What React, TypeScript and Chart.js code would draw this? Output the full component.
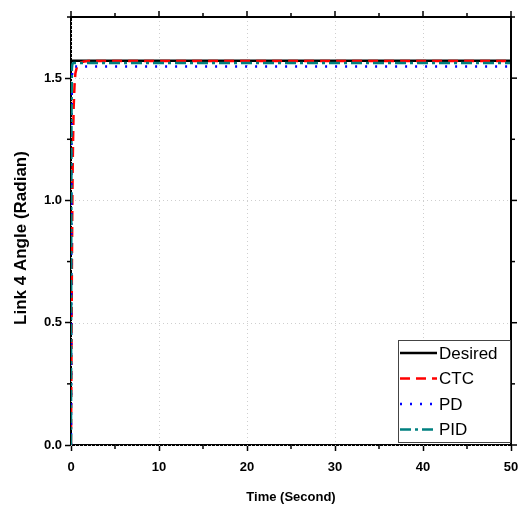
import React, { useEffect, useRef } from "react";
import { Chart, registerables } from "chart.js";

Chart.register(...registerables);

const timeSec = [0, 0.05, 0.1, 0.15, 0.2, 0.3, 0.4, 0.5, 0.7, 1, 1.5, 2, 3, 5, 10, 20, 30, 40, 50];
const desired = [1.5708, 1.5708, 1.5708, 1.5708, 1.5708, 1.5708, 1.5708, 1.5708, 1.5708, 1.5708, 1.5708, 1.5708, 1.5708, 1.5708, 1.5708, 1.5708, 1.5708, 1.5708, 1.5708];
const ctc = [0, 0.35, 0.72, 0.98, 1.17, 1.38, 1.47, 1.52, 1.55, 1.563, 1.568, 1.57, 1.57, 1.57, 1.57, 1.57, 1.57, 1.57, 1.57];
const pd = [0, 1.22, 1.5, 1.53, 1.54, 1.546, 1.548, 1.548, 1.548, 1.548, 1.548, 1.548, 1.548, 1.548, 1.548, 1.548, 1.548, 1.548, 1.548];
const pid = [0, 1.3, 1.54, 1.555, 1.56, 1.562, 1.562, 1.562, 1.562, 1.562, 1.562, 1.562, 1.562, 1.562, 1.562, 1.562, 1.562, 1.562, 1.562];

const xTicks = [0, 10, 20, 30, 40, 50];
const xMinorTicks = [5, 15, 25, 35, 45];
const yTicks = [0, 0.5, 1.0, 1.5];
const yMinorTicks = [0.25, 0.75, 1.25, 1.75];

const seriesNames = ["Desired", "CTC", "PD", "PID"];
const seriesColors = ["#000000", "#ff0000", "#0000ff", "#008080"];
const seriesDash = [[], [10, 6], [2, 8], [11, 4, 3, 4]];

const SANS = "'Liberation Sans', Arial, sans-serif";
const yTitle = "Link 4 Angle (Radian)";

const framePlugin = {
  id: "frame",
  beforeDatasetsDraw(chart: any) {
    const { ctx, chartArea: a, scales } = chart;
    ctx.save();
    ctx.strokeStyle = "#cfcfcf";
    ctx.lineWidth = 1;
    ctx.setLineDash([1, 3]);
    for (const v of xTicks) {
      const x = Math.round(scales.x.getPixelForValue(v)) + 0.5;
      ctx.beginPath();
      ctx.moveTo(x, a.top);
      ctx.lineTo(x, a.bottom);
      ctx.stroke();
    }
    for (const v of yTicks) {
      const y = Math.round(scales.y.getPixelForValue(v)) + 0.5;
      ctx.beginPath();
      ctx.moveTo(a.left, y);
      ctx.lineTo(a.right, y);
      ctx.stroke();
    }
    ctx.restore();
  },
  afterDraw(chart: any) {
    const { ctx, chartArea: a, scales } = chart;
    ctx.save();
    ctx.strokeStyle = "#000";
    ctx.setLineDash([]);
    ctx.lineWidth = 2;
    ctx.beginPath();
    ctx.moveTo(a.left, a.top);
    ctx.lineTo(a.right, a.top);
    ctx.lineTo(a.right, a.bottom);
    ctx.stroke();
    ctx.lineWidth = 1.5;
    const tick = (x1: number, y1: number, x2: number, y2: number) => {
      ctx.beginPath();
      ctx.moveTo(x1, y1);
      ctx.lineTo(x2, y2);
      ctx.stroke();
    };
    for (const v of xTicks) {
      const x = scales.x.getPixelForValue(v);
      tick(x, a.top, x, a.top - 6);
    }
    for (const v of xMinorTicks) {
      const x = scales.x.getPixelForValue(v);
      tick(x, a.top, x, a.top - 4);
      tick(x, a.bottom, x, a.bottom + 4);
    }
    for (const v of yTicks) {
      const y = scales.y.getPixelForValue(v);
      tick(a.right, y, a.right + 6, y);
    }
    for (const v of yMinorTicks) {
      const y = scales.y.getPixelForValue(v);
      tick(a.left, y, a.left - 4, y);
      tick(a.right, y, a.right + 4, y);
    }
    // y axis title
    ctx.save();
    ctx.translate(21, 238);
    ctx.rotate(-Math.PI / 2);
    ctx.font = "bold 17px " + SANS;
    ctx.fillStyle = "#000";
    ctx.textAlign = "center";
    ctx.textBaseline = "middle";
    ctx.fillText(yTitle, 0, 0);
    ctx.restore();
    // legend
    const lx = 398, ly = 340, lw = 112, lh = 102;
    ctx.fillStyle = "#fff";
    ctx.fillRect(lx, ly, lw, lh);
    ctx.lineWidth = 1;
    ctx.strokeStyle = "#444";
    ctx.strokeRect(lx + 0.5, ly + 0.5, lw, lh);
    ctx.font = "17px " + SANS;
    ctx.textBaseline = "middle";
    ctx.textAlign = "left";
    seriesNames.forEach((name, i) => {
      const y = ly + 13 + i * 25.5;
      ctx.strokeStyle = seriesColors[i];
      ctx.lineWidth = 2.5;
      ctx.setLineDash(seriesDash[i]);
      ctx.beginPath();
      ctx.moveTo(lx + 2, y);
      ctx.lineTo(lx + 39, y);
      ctx.stroke();
      ctx.setLineDash([]);
      ctx.fillStyle = "#000";
      ctx.fillText(name, lx + 41, y + 1);
    });
    ctx.restore();
  },
};

export default function App() {
  const ref = useRef<HTMLCanvasElement | null>(null);
  useEffect(() => {
    if (!ref.current) return;
    const allSeries = [desired, ctc, pd, pid];
    const chart = new Chart(ref.current, {
      type: "line",
      data: {
        datasets: allSeries.map((s, i) => ({
          label: seriesNames[i],
          data: timeSec.map((t, j) => ({ x: t, y: s[j] })),
          borderColor: seriesColors[i],
          borderWidth: 2.5,
          borderDash: seriesDash[i],
          pointRadius: 0,
          fill: false,
          tension: 0,
          order: 4 - i,
        })),
      },
      options: {
        animation: false,
        responsive: false,
        layout: { padding: { left: 0, right: 11, top: 17, bottom: 0 } },
        plugins: { legend: { display: false }, tooltip: { enabled: false } },
        scales: {
          x: {
            type: "linear",
            min: 0,
            max: 50,
            afterBuildTicks: (s: any) => {
              s.ticks = xTicks.map((v) => ({ value: v }));
            },
            afterFit: (s: any) => {
              s.height = 60;
              s.paddingLeft = 0;
              s.paddingRight = 0;
            },
            ticks: {
              color: "#000",
              font: { family: SANS, size: 13, weight: "bold" },
              padding: 9,
              maxRotation: 0,
            },
            grid: { drawOnChartArea: false, drawTicks: true, tickLength: 6, tickWidth: 1.5, tickColor: "#000" },
            border: { display: true, color: "#000", width: 2 },
            title: {
              display: true,
              text: "Time (Second)",
              color: "#000",
              font: { family: SANS, size: 13, weight: "bold" },
              padding: { top: 4, bottom: 0 },
            },
          },
          y: {
            type: "linear",
            min: 0,
            max: 1.75,
            afterBuildTicks: (s: any) => {
              s.ticks = yTicks.map((v) => ({ value: v }));
            },
            afterFit: (s: any) => {
              s.width = 71;
              s.paddingTop = 0;
              s.paddingBottom = 0;
            },
            ticks: {
              color: "#000",
              font: { family: SANS, size: 13, weight: "bold" },
              padding: 3,
              callback: (v: any) => Number(v).toFixed(1),
            },
            grid: { drawOnChartArea: false, drawTicks: true, tickLength: 6, tickWidth: 1.5, tickColor: "#000" },
            border: { display: true, color: "#000", width: 2 },
          },
        },
      },
      plugins: [framePlugin],
    } as any);
    return () => chart.destroy();
  }, []);
  return (
    <div style={{ position: "fixed", left: 0, top: 0, width: 522, height: 505, background: "#fff" }}>
      <canvas ref={ref} width={522} height={505} style={{ width: 522, height: 505 }} />
    </div>
  );
}
